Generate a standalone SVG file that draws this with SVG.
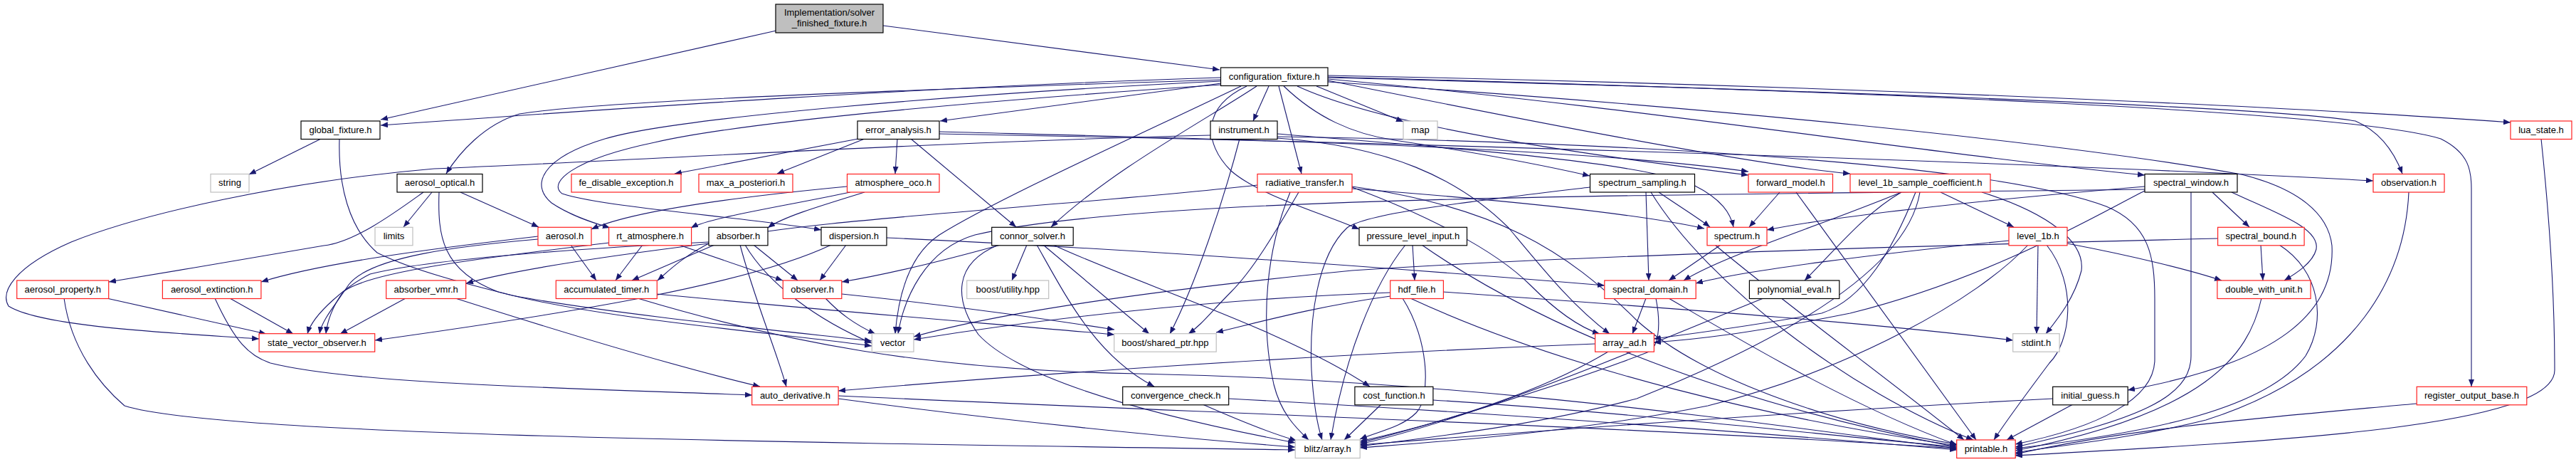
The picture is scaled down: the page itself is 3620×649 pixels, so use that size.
<svg xmlns="http://www.w3.org/2000/svg" width="3620" height="649" viewBox="0 0 3620 649">
<defs>
<marker id="a" markerWidth="11" markerHeight="8" refX="10" refY="4" orient="auto" markerUnits="userSpaceOnUse"><path d="M0,0 L10,4 L0,8 z" fill="#191970"/></marker>
<style>
.e{fill:none;stroke:#191970;stroke-width:1.1;marker-end:url(#a)}
.n rect{fill:#fff;stroke-width:1.2}
.k rect{stroke:#000}
.r rect{stroke:#ff2020}
.g rect{stroke:#bfbfbf}
.root rect{fill:#bfbfbf;stroke:#000}
.n text{font-family:"Liberation Sans",Arial,sans-serif;font-size:13px;text-anchor:middle;fill:#000}
</style>
</defs>
<rect width="3620" height="649" fill="#fff"/>
<g id="edges">
<path class="e" d="M1091,43 L535,168"/>
<path class="e" d="M1241,36 L1714,98"/>
<path class="e" d="M1715,109 C1300,122 900,150 535,176"/>
<path class="e" d="M1716,117 L1321,170"/>
<path class="e" d="M1715,112 C1350,124 850,140 730,160 C680,175 645,215 627,244"/>
<path class="e" d="M1715,114 C1350,132 950,165 850,195 C760,222 745,260 775,285 C800,302 830,312 857,320"/>
<path class="e" d="M1716,119 C1400,140 1050,170 920,200 C800,225 770,258 790,272 C850,292 1060,306 1154,323"/>
<path class="e" d="M1783,121 L1761,170"/>
<path class="e" d="M1850,121 L1972,171"/>
<path class="e" d="M1797,121 L1829,244"/>
<path class="e" d="M1766,121 C1700,165 1560,240 1477,319"/>
<path class="e" d="M1804,121 C1850,165 1900,188 1960,197 C2060,212 2150,228 2234,247"/>
<path class="e" d="M1823,121 C1950,180 2250,220 2457,246"/>
<path class="e" d="M1320,185 C1700,195 2200,205 2457,241"/>
<path class="e" d="M1866,113 C2100,160 2450,230 2600,244"/>
<path class="e" d="M1866,111 C2300,150 2700,215 3014,246"/>
<path class="e" d="M1866,109 C2500,125 3200,150 3310,170 C3345,185 3365,215 3376,244"/>
<path class="e" d="M1866,106 C2500,118 3200,148 3528,172"/>
<path class="e" d="M1866,108 C2600,128 3300,155 3430,195 C3470,215 3473,240 3473,265 L3473,543"/>
<path class="e" d="M1866,115 C2400,150 2900,200 3150,245 C3230,265 3272,300 3277,345 C3282,440 3200,510 2990,548"/>
<path class="e" d="M1752,121 C1690,150 1690,200 1730,240 C1770,275 1860,300 1910,322"/>
<path class="e" d="M1744,121 C1600,190 1400,280 1320,330 C1275,360 1262,420 1258,469"/>
<path class="e" d="M1701,190 C1300,200 900,225 610,237 C400,255 200,300 100,340 C20,375 0,410 12,430 C60,460 250,468 364,476"/>
<path class="e" d="M1206,195 L948,244"/>
<path class="e" d="M1215,195 L1092,244"/>
<path class="e" d="M1261,195 L1258,244"/>
<path class="e" d="M1280,195 L1428,319"/>
<path class="e" d="M1320,188 C2000,200 2900,230 3335,254"/>
<path class="e" d="M1742,195 C1720,280 1680,400 1644,469"/>
<path class="e" d="M1795,188 C2000,205 2300,225 2380,260 C2420,280 2432,300 2436,319"/>
<path class="e" d="M1795,192 C2300,200 2800,230 2960,290 C3020,315 3028,360 3028,420 L3028,505 C3028,560 2950,600 2832,624"/>
<path class="e" d="M1795,194 C1950,205 2050,250 2120,320 C2170,380 2210,430 2262,469"/>
<path class="e" d="M607,270 L567,319"/>
<path class="e" d="M647,270 L757,319"/>
<path class="e" d="M595,270 C560,295 500,340 455,345 C380,358 250,380 153,396"/>
<path class="e" d="M617,270 C615,330 620,380 700,410 C850,450 1100,468 1225,486"/>
<path class="e" d="M451,195 L350,245"/>
<path class="e" d="M477,195 C475,260 490,320 530,355 C580,380 660,400 720,415 C850,440 1100,465 1225,479"/>
<path class="e" d="M1195,270 C1100,290 1000,305 971,320"/>
<path class="e" d="M1215,270 C1150,290 1100,305 1079,320"/>
<path class="e" d="M1190,262 C1000,280 880,300 831,322"/>
<path class="e" d="M802,344 L838,394"/>
<path class="e" d="M756,336 C650,345 520,360 490,400 C470,430 452,450 449,469"/>
<path class="e" d="M756,332 C600,350 450,370 367,396"/>
<path class="e" d="M903,344 L865,394"/>
<path class="e" d="M954,344 L1100,394"/>
<path class="e" d="M856,341 C700,360 520,380 482,410 C468,430 460,450 458,469"/>
<path class="e" d="M996,342 C850,360 720,380 655,398"/>
<path class="e" d="M1004,344 L888,394"/>
<path class="e" d="M1059,344 L1121,394"/>
<path class="e" d="M1040,344 C1060,420 1090,490 1105,543"/>
<path class="e" d="M1047,344 C1080,400 1150,450 1225,482"/>
<path class="e" d="M996,340 C800,350 600,365 520,385 C490,400 440,440 432,469"/>
<path class="e" d="M570,419 L478,469"/>
<path class="e" d="M640,419 C800,470 950,515 1068,543"/>
<path class="e" d="M150,419 L374,469"/>
<path class="e" d="M90,419 C100,490 140,540 175,570 C300,610 1000,620 1820,632"/>
<path class="e" d="M323,419 L412,469"/>
<path class="e" d="M302,419 C330,480 350,500 380,510 C500,540 800,545 1057,555"/>
<path class="e" d="M923,413 C1200,440 1400,455 1566,470"/>
<path class="e" d="M896,419 C1100,480 1300,520 1600,525 C2100,535 2500,600 2750,630"/>
<path class="e" d="M1183,413 C1350,430 1480,450 1566,463"/>
<path class="e" d="M1160,419 C1180,440 1200,455 1230,469"/>
<path class="e" d="M1189,344 L1152,394"/>
<path class="e" d="M1168,344 C1050,400 800,440 527,478"/>
<path class="e" d="M1246,334 C1600,350 2000,380 2255,401"/>
<path class="e" d="M1406,344 C1330,365 1250,385 1183,396"/>
<path class="e" d="M1443,344 L1422,394"/>
<path class="e" d="M1466,344 L1615,469"/>
<path class="e" d="M1457,344 C1500,420 1540,500 1622,543"/>
<path class="e" d="M1480,344 C1600,400 1800,460 1925,543"/>
<path class="e" d="M1403,344 C1340,370 1340,420 1375,470 C1430,530 1600,580 1820,622"/>
<path class="e" d="M1985,344 L1988,394"/>
<path class="e" d="M1975,344 C1930,400 1890,500 1870,618"/>
<path class="e" d="M1998,344 C2150,450 2400,560 2750,628"/>
<path class="e" d="M1954,411 C1700,420 1450,450 1284,477"/>
<path class="e" d="M1954,416 C1850,430 1760,455 1709,467"/>
<path class="e" d="M1971,419 C2010,480 2010,560 1990,580 C1970,600 1940,605 1911,617"/>
<path class="e" d="M2028,410 C2300,430 2600,450 2829,478"/>
<path class="e" d="M1982,419 C2200,520 2500,590 2750,626"/>
<path class="e" d="M2313,270 L2317,394"/>
<path class="e" d="M2331,270 C2360,290 2385,305 2403,319"/>
<path class="e" d="M2320,270 C2400,400 2600,550 2773,618"/>
<path class="e" d="M2234,263 C2050,285 1920,300 1893,320 C1850,360 1840,450 1843,520 C1846,570 1852,600 1858,618"/>
<path class="e" d="M1900,265 C2100,280 2300,300 2395,321"/>
<path class="e" d="M1825,270 C1790,330 1760,380 1730,410 C1700,440 1690,455 1670,469"/>
<path class="e" d="M1813,270 C1780,350 1770,450 1790,540 C1800,580 1820,600 1839,618"/>
<path class="e" d="M1767,260 C1500,290 1100,310 1000,340 C960,360 940,380 924,394"/>
<path class="e" d="M1900,263 C2000,300 2100,350 2150,400 C2190,440 2220,460 2248,469"/>
<path class="e" d="M1900,262 C2100,290 2200,350 2300,450 C2400,540 2600,600 2750,624"/>
<path class="e" d="M2501,270 L2458,319"/>
<path class="e" d="M2524,270 L2777,618"/>
<path class="e" d="M2727,270 L2830,319"/>
<path class="e" d="M2672,270 C2620,300 2580,350 2536,394"/>
<path class="e" d="M2672,270 C2550,320 2420,360 2366,394"/>
<path class="e" d="M2692,270 C2660,350 2620,420 2560,440 C2450,460 2380,468 2324,476"/>
<path class="e" d="M2698,270 C2680,380 2500,480 2300,560 C2150,600 2000,615 1911,627"/>
<path class="e" d="M2785,270 C2880,300 2930,340 2925,380 C2915,420 2890,450 2875,469"/>
<path class="e" d="M2864,344 L2862,469"/>
<path class="e" d="M2876,344 C2920,400 2910,480 2880,510 C2850,550 2820,590 2802,618"/>
<path class="e" d="M2823,338 C2650,355 2450,380 2383,398"/>
<path class="e" d="M2905,342 C3000,360 3080,380 3122,394"/>
<path class="e" d="M2850,344 C2780,420 2600,520 2400,570 C2200,610 2000,622 1911,629"/>
<path class="e" d="M2418,344 L2345,394"/>
<path class="e" d="M2410,344 C2500,420 2650,530 2760,618"/>
<path class="e" d="M2313,419 L2294,469"/>
<path class="e" d="M2327,419 C2335,460 2330,490 2315,495 C2200,540 2000,600 1911,622"/>
<path class="e" d="M2345,419 C2450,480 2600,570 2750,625"/>
<path class="e" d="M2478,419 C2350,470 2100,580 1911,624"/>
<path class="e" d="M2242,483 C1800,500 1400,530 1178,549"/>
<path class="e" d="M2260,494 C2150,560 2000,600 1911,620"/>
<path class="e" d="M1178,556 C1700,580 2300,600 2750,630"/>
<path class="e" d="M1178,560 C1400,590 1650,615 1820,628"/>
<path class="e" d="M1727,560 C2100,580 2500,610 2750,632"/>
<path class="e" d="M1690,568 C1740,590 1790,610 1822,619"/>
<path class="e" d="M1941,568 L1889,618"/>
<path class="e" d="M2014,562 C2300,580 2550,610 2750,628"/>
<path class="e" d="M2885,560 C2500,580 2100,610 1911,625"/>
<path class="e" d="M2913,568 L2820,618"/>
<path class="e" d="M3109,270 L3161,319"/>
<path class="e" d="M3079,270 L3079,500 C3079,560 3000,590 2832,628"/>
<path class="e" d="M3014,262 C2800,280 2600,300 2483,323"/>
<path class="e" d="M3136,270 C3200,300 3260,320 3255,350 C3250,370 3225,385 3210,394"/>
<path class="e" d="M3014,266 C2300,275 1600,275 1370,330 C1300,350 1270,420 1262,469"/>
<path class="e" d="M3014,268 C2950,300 2800,390 2600,440 C2450,470 2380,477 2324,481"/>
<path class="e" d="M3177,344 L3180,394"/>
<path class="e" d="M3203,344 C3260,380 3270,450 3240,500 C3180,580 3000,610 2832,630"/>
<path class="e" d="M3117,335 C2700,345 2200,360 1900,380 C1600,410 1400,440 1284,473"/>
<path class="e" d="M3178,419 C3160,500 3100,580 2832,633"/>
<path class="e" d="M3385,270 C3380,380 3320,520 3100,590 C3000,615 2900,625 2832,636"/>
<path class="e" d="M3396,567 C3200,585 3000,600 2832,638"/>
<path class="e" d="M3571,195 C3580,280 3590,400 3590,520 C3590,600 3200,620 2832,640"/>
</g>
<g id="node-root" class="n root"><rect x="1090" y="6" width="151" height="40"/><text x="1165.5" y="21.8">Implementation/solver</text><text x="1165.5" y="36.8">_finished_fixture.h</text></g>
<g id="node-configuration_fixture" class="n k"><rect x="1715.5" y="95" width="150.5" height="25.5"/><text x="1790.8" y="111.8">configuration_fixture.h</text></g>
<g id="node-global_fixture" class="n k"><rect x="423" y="170" width="111" height="25.5"/><text x="478.5" y="186.8">global_fixture.h</text></g>
<g id="node-error_analysis" class="n k"><rect x="1205" y="170" width="115" height="25.5"/><text x="1262.5" y="186.8">error_analysis.h</text></g>
<g id="node-instrument" class="n k"><rect x="1701" y="170" width="94" height="25.5"/><text x="1748" y="186.8">instrument.h</text></g>
<g id="node-map" class="n g"><rect x="1972" y="170" width="48" height="25.5"/><text x="1996" y="186.8">map</text></g>
<g id="node-lua_state" class="n r"><rect x="3528" y="170" width="86" height="25.5"/><text x="3571" y="186.8">lua_state.h</text></g>
<g id="node-string" class="n g"><rect x="296" y="244.5" width="54" height="25.5"/><text x="323" y="261.3">string</text></g>
<g id="node-aerosol_optical" class="n k"><rect x="558" y="244.5" width="120" height="25.5"/><text x="618" y="261.3">aerosol_optical.h</text></g>
<g id="node-fe_disable_exception" class="n r"><rect x="803" y="244.5" width="154" height="25.5"/><text x="880" y="261.3">fe_disable_exception.h</text></g>
<g id="node-max_a_posteriori" class="n r"><rect x="982" y="244.5" width="132" height="25.5"/><text x="1048" y="261.3">max_a_posteriori.h</text></g>
<g id="node-atmosphere_oco" class="n r"><rect x="1190.5" y="244.5" width="129.5" height="25.5"/><text x="1255.3" y="261.3">atmosphere_oco.h</text></g>
<g id="node-radiative_transfer" class="n r"><rect x="1767" y="244.5" width="133" height="25.5"/><text x="1833.5" y="261.3">radiative_transfer.h</text></g>
<g id="node-spectrum_sampling" class="n k"><rect x="2234.5" y="244.5" width="147" height="25.5"/><text x="2308" y="261.3">spectrum_sampling.h</text></g>
<g id="node-forward_model" class="n r"><rect x="2457" y="244.5" width="118.5" height="25.5"/><text x="2516.3" y="261.3">forward_model.h</text></g>
<g id="node-level_1b_sample_coefficient" class="n r"><rect x="2600" y="244.5" width="197" height="25.5"/><text x="2698.5" y="261.3">level_1b_sample_coefficient.h</text></g>
<g id="node-spectral_window" class="n k"><rect x="3014" y="244.5" width="130" height="25.5"/><text x="3079" y="261.3">spectral_window.h</text></g>
<g id="node-observation" class="n r"><rect x="3335" y="244.5" width="100" height="25.5"/><text x="3385" y="261.3">observation.h</text></g>
<g id="node-limits" class="n g"><rect x="527" y="319.3" width="53" height="25.5"/><text x="553.5" y="336.1">limits</text></g>
<g id="node-aerosol" class="n r"><rect x="756" y="319.3" width="75" height="25.5"/><text x="793.5" y="336.1">aerosol.h</text></g>
<g id="node-rt_atmosphere" class="n r"><rect x="855.6" y="319.3" width="116" height="25.5"/><text x="913.6" y="336.1">rt_atmosphere.h</text></g>
<g id="node-absorber" class="n k"><rect x="996" y="319.3" width="83" height="25.5"/><text x="1037.5" y="336.1">absorber.h</text></g>
<g id="node-dispersion" class="n k"><rect x="1154" y="319.3" width="92" height="25.5"/><text x="1200" y="336.1">dispersion.h</text></g>
<g id="node-connor_solver" class="n k"><rect x="1393.7" y="319.3" width="114.5" height="25.5"/><text x="1451" y="336.1">connor_solver.h</text></g>
<g id="node-pressure_level_input" class="n k"><rect x="1910" y="319.3" width="151.5" height="25.5"/><text x="1985.8" y="336.1">pressure_level_input.h</text></g>
<g id="node-spectrum" class="n r"><rect x="2399" y="319.3" width="84" height="25.5"/><text x="2441" y="336.1">spectrum.h</text></g>
<g id="node-level_1b" class="n r"><rect x="2823" y="319.3" width="82" height="25.5"/><text x="2864" y="336.1">level_1b.h</text></g>
<g id="node-spectral_bound" class="n r"><rect x="3116.6" y="319.3" width="121.5" height="25.5"/><text x="3177.4" y="336.1">spectral_bound.h</text></g>
<g id="node-aerosol_property" class="n r"><rect x="23.7" y="394" width="129" height="25.5"/><text x="88.2" y="410.8">aerosol_property.h</text></g>
<g id="node-aerosol_extinction" class="n r"><rect x="228.4" y="394" width="138.5" height="25.5"/><text x="297.7" y="410.8">aerosol_extinction.h</text></g>
<g id="node-absorber_vmr" class="n r"><rect x="542.7" y="394" width="112" height="25.5"/><text x="598.7" y="410.8">absorber_vmr.h</text></g>
<g id="node-accumulated_timer" class="n r"><rect x="781.3" y="394" width="142" height="25.5"/><text x="852.3" y="410.8">accumulated_timer.h</text></g>
<g id="node-observer" class="n r"><rect x="1100.3" y="394" width="82.5" height="25.5"/><text x="1141.6" y="410.8">observer.h</text></g>
<g id="node-boost_utility" class="n g"><rect x="1358.7" y="394" width="115" height="25.5"/><text x="1416.2" y="410.8">boost/utility.hpp</text></g>
<g id="node-hdf_file" class="n r"><rect x="1953.7" y="394" width="74.7" height="25.5"/><text x="1991" y="410.8">hdf_file.h</text></g>
<g id="node-spectral_domain" class="n r"><rect x="2254.8" y="394" width="128.4" height="25.5"/><text x="2319" y="410.8">spectral_domain.h</text></g>
<g id="node-polynomial_eval" class="n k"><rect x="2458.4" y="394" width="126.4" height="25.5"/><text x="2521.6" y="410.8">polynomial_eval.h</text></g>
<g id="node-double_with_unit" class="n r"><rect x="3115.9" y="394" width="131.2" height="25.5"/><text x="3181.5" y="410.8">double_with_unit.h</text></g>
<g id="node-state_vector_observer" class="n r"><rect x="364.1" y="468.7" width="162.6" height="25.5"/><text x="445.4" y="485.5">state_vector_observer.h</text></g>
<g id="node-vector" class="n g"><rect x="1225.3" y="468.7" width="58.7" height="25.5"/><text x="1254.6" y="485.5">vector</text></g>
<g id="node-boost_shared_ptr" class="n g"><rect x="1565.7" y="468.7" width="143.5" height="25.5"/><text x="1637.4" y="485.5">boost/shared_ptr.hpp</text></g>
<g id="node-array_ad" class="n r"><rect x="2241.6" y="468.7" width="82.8" height="25.5"/><text x="2283" y="485.5">array_ad.h</text></g>
<g id="node-stdint" class="n g"><rect x="2828.7" y="468.7" width="65.4" height="25.5"/><text x="2861.4" y="485.5">stdint.h</text></g>
<g id="node-auto_derivative" class="n r"><rect x="1056.7" y="543.3" width="121.4" height="25.5"/><text x="1117.4" y="560.1">auto_derivative.h</text></g>
<g id="node-convergence_check" class="n k"><rect x="1577.7" y="543.3" width="149" height="25.5"/><text x="1652.2" y="560.1">convergence_check.h</text></g>
<g id="node-cost_function" class="n k"><rect x="1903.9" y="543.3" width="110" height="25.5"/><text x="1958.9" y="560.1">cost_function.h</text></g>
<g id="node-initial_guess" class="n k"><rect x="2884.7" y="543.3" width="105.5" height="25.5"/><text x="2937.5" y="560.1">initial_guess.h</text></g>
<g id="node-register_output_base" class="n r"><rect x="3396.2" y="543.3" width="154.6" height="25.5"/><text x="3473.5" y="560.1">register_output_base.h</text></g>
<g id="node-blitz_array" class="n g"><rect x="1820.2" y="618" width="91" height="25.5"/><text x="1865.7" y="634.8">blitz/array.h</text></g>
<g id="node-printable" class="n r"><rect x="2749.7" y="618" width="82.5" height="25.5"/><text x="2791" y="634.8">printable.h</text></g>
</svg>
